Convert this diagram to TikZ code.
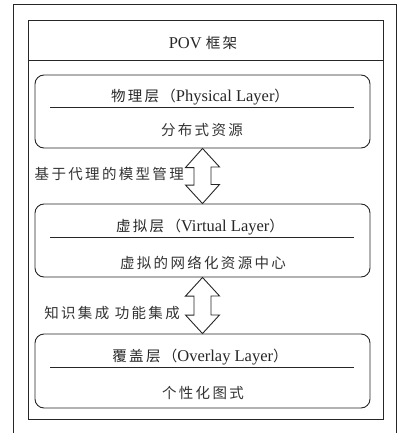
\documentclass[tikz,border=0pt]{standalone}
\usepackage{fontspec}
\setmainfont{Liberation Serif}
\newfontfamily\cjk[LetterSpace=16]{Noto Sans CJK SC}
\begin{document}
\begin{tikzpicture}[x=1pt,y=-1pt,
  frame/.style={draw=black!85,line width=0.9pt},
  layer/.style={draw=black!85,line width=0.9pt,rounded corners=9pt,minimum width=335pt,inner sep=0pt},
  ttl/.style={font=\fontsize{16.5}{18}\selectfont,inner sep=0pt,text=black!85},
  zh/.style={font=\fontsize{14.5}{17}\selectfont\cjk,inner sep=0pt,text=black!80},
  dbl/.style={draw=black!85,line width=0.9pt,fill=white,line join=miter}]
\newcommand{\zht}[1]{{\fontsize{14.5}{17}\selectfont\cjk #1}}
\useasboundingbox (0,0) rectangle (399,433);
\clip (0,0) rectangle (399,433);
% outer frame
\draw[frame] (13.5,4.5) coordinate (o1) rectangle (396.5,460) coordinate (o2);
% inner frame
\draw[frame] (28.5,20.5) coordinate (i1) rectangle (383,419) coordinate (i2);
\draw[frame] (28.5,60.5) coordinate (s1) -- (383,60.5) coordinate (s2);
\node[ttl] (pov) at (203,43) {POV \zht{框架}};
% layers
\node[layer,minimum height=73pt] (L1) at (202.5,111.5) {};
\node[layer,minimum height=73pt] (L2) at (202.5,240.5) {};
\node[layer,minimum height=74pt] (L3) at (202.5,371) {};
% layer 1
\node[ttl] (t1) at (200,97) {\zht{物理层（}Physical Layer\zht{）}};
\draw[frame] (50,107) coordinate (a1) -- (354,107) coordinate (b1);
\node[zh] (c1) at (202,130) {分布式资源};
% layer 2
\node[ttl] (t2) at (200,227) {\zht{虚拟层（}Virtual Layer\zht{）}};
\draw[frame] (50,237) coordinate (a2) -- (354,237) coordinate (b2);
\node[zh] (c2) at (203,263) {虚拟的网络化资源中心};
% layer 3
\node[ttl] (t3) at (200,357) {\zht{覆盖层（}Overlay Layer\zht{）}};
\draw[frame] (50,367) coordinate (a3) -- (354,367) coordinate (b3);
\node[zh] (c3) at (203,393) {个性化图式};
% double arrows
\draw[dbl] (L1.south -| 202.5,0) -- ++(17,18.5) -- ++(-8.5,0) -- ++(0,17.5) -- ++(8.5,0)
  -- (L2.north -| 202.5,0) -- ++(-17,-18.5) -- ++(8.5,0) -- ++(0,-17.5) -- ++(-8.5,0) -- cycle;
\draw[dbl] (L2.south -| 202.5,0) -- ++(17,18.5) -- ++(-8.5,0) -- ++(0,19) -- ++(8.5,0)
  -- (L3.north -| 202.5,0) -- ++(-17,-18.5) -- ++(8.5,0) -- ++(0,-19) -- ++(-8.5,0) -- cycle;
% labels
\node[zh,anchor=east] (m1) at (184,174) {基于代理的模型管理};
\node[zh,anchor=east] (m2) at (180,313) {知识集成 功能集成};
\end{tikzpicture}
\end{document}
